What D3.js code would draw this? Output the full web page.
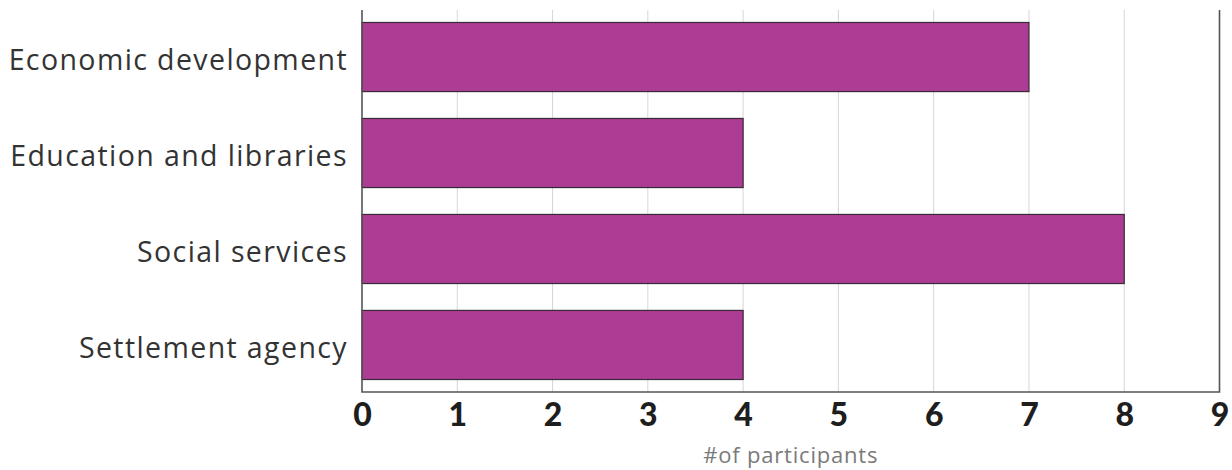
<!DOCTYPE html>
<html><head><meta charset="utf-8">
<script src="https://cdn.jsdelivr.net/npm/d3@7/dist/d3.min.js"></script>
<style>body{margin:0;background:#fff}svg{display:block}</style>
</head><body>
<svg id="c" width="1232" height="470"></svg>
<script>
const categories = ["Economic development","Education and libraries","Social services","Settlement agency"];
const values = [7, 4, 8, 4];
const tickValues = [0,1,2,3,4,5,6,7,8,9];
const xTitle = "#of participants";

(function(){
const svg = d3.select("#c");
const mLeft = 362, mRight = 1219.5, mTop = 10, mBottom = 392;
const x = d3.scaleLinear().domain([0, 9]).range([mLeft, mRight]);
const y = d3.scaleBand().domain(categories).range([mTop, mBottom]).paddingInner(0.28).paddingOuter(0.13);

// gridlines
svg.append("g").selectAll("line").data(tickValues.filter(d => d > 0 && d < 9)).join("line")
  .attr("x1", d => x(d)).attr("x2", d => x(d)).attr("y1", mTop).attr("y2", mBottom)
  .attr("stroke", "#d6d6d6").attr("stroke-width", 1);

// bars
svg.append("g").selectAll("rect").data(categories).join("rect")
  .attr("x", x(0)).attr("y", (d) => y(d))
  .attr("width", (d, i) => x(values[i]) - x(0)).attr("height", y.bandwidth())
  .attr("fill", "#ad3c94").attr("stroke", "#3a2a35").attr("stroke-width", 1.2);

// frame: left, bottom, right
svg.append("path")
  .attr("d", `M${mLeft},${mTop}V${mBottom}H${mRight}V${mTop}`)
  .attr("fill", "none").attr("stroke", "#555").attr("stroke-width", 1.6);

// x axis via d3
const xAxis = d3.axisBottom(x).tickValues(tickValues).tickSize(0).tickPadding(10).tickFormat(d3.format("d"));
const gx = svg.append("g").attr("transform", `translate(0,${mBottom})`).call(xAxis);
gx.select(".domain").remove();
gx.selectAll("text").attr("font-family", "Lato").attr("font-weight", 900).attr("font-size", 32).attr("fill", "#1e1e1e").attr("dy", "0.75em");

// y axis via d3
const yAxis = d3.axisLeft(y).tickSize(0).tickPadding(14);
const gy = svg.append("g").attr("transform", `translate(${mLeft},0)`).call(yAxis);
gy.select(".domain").remove();
gy.selectAll("text").attr("font-family", "Open Sans").attr("font-size", 28.5).attr("letter-spacing", 1.4).attr("fill", "#333").attr("dy", "0.44em");

// x title
svg.append("text").attr("x", (mLeft + mRight) / 2).attr("y", 463).attr("text-anchor", "middle")
  .attr("font-family", "Open Sans").attr("font-size", 22).attr("letter-spacing", 0.8).attr("fill", "#7a7a7a").text(xTitle);
})();
</script>
</body></html>
